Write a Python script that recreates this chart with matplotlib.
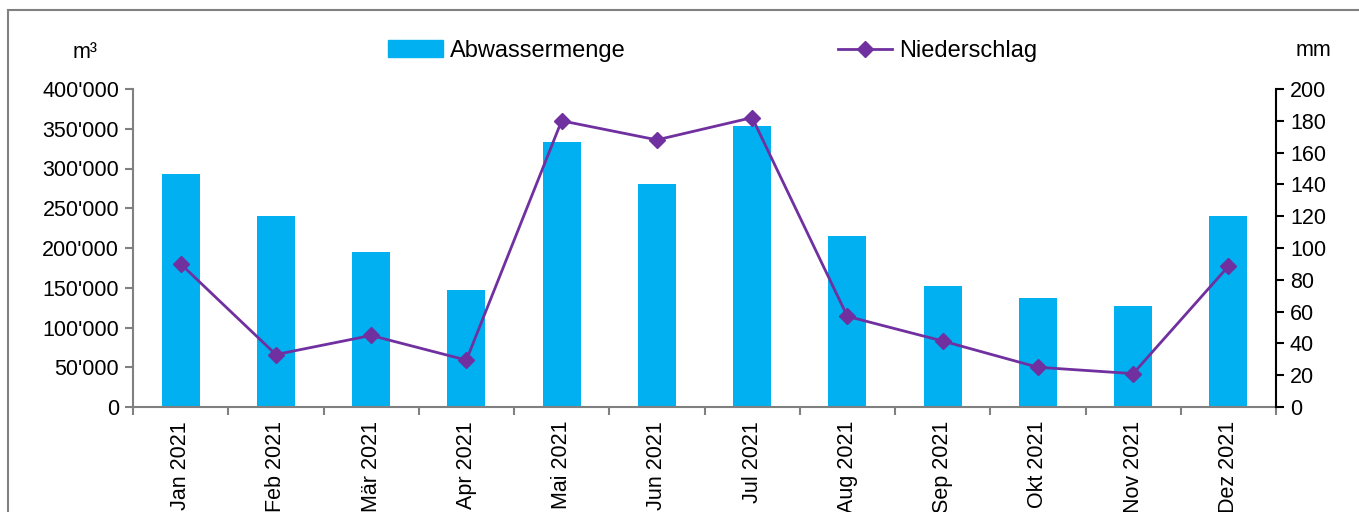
import matplotlib.pyplot as plt
import numpy as np
from matplotlib.lines import Line2D
from matplotlib.patches import Patch, Rectangle
from matplotlib.ticker import FuncFormatter

plt.rcParams["font.family"] = ["Liberation Sans", "DejaVu Sans"]

months = ["Jan 2021", "Feb 2021", "Mär 2021", "Apr 2021", "Mai 2021", "Jun 2021",
          "Jul 2021", "Aug 2021", "Sep 2021", "Okt 2021", "Nov 2021", "Dez 2021"]
abwasser = [293000, 240000, 195000, 147000, 333000, 280500,
            353500, 215000, 152000, 137000, 127000, 240000]
niederschlag = [90, 33, 45, 29.5, 180, 168, 182, 57, 41.5, 25, 21, 88.5]

BAR_COLOR = "#00B0F0"
LINE_COLOR = "#7030A0"
AXIS_GRAY = "#808080"
FS = 15.5


def swiss_thousands(v, _pos):
    return f"{int(v):,}".replace(",", "'")


fig = plt.figure(figsize=(13.59, 5.12), dpi=100)
fig.patches.append(Rectangle((8 / 1359, -0.1), 1.2, 1.1 - 10 / 512,
                             transform=fig.transFigure, fill=False,
                             edgecolor=AXIS_GRAY, linewidth=1.5))

ax = fig.add_axes([133 / 1359, 1 - 407 / 512, (1276 - 133) / 1359, (407 - 89) / 512])
x = np.arange(len(months))
ax.bar(x, abwasser, width=0.4, color=BAR_COLOR, zorder=2)
ax.set_xlim(-0.5, len(months) - 0.5)
ax.set_ylim(0, 400000)
ax.set_yticks(np.arange(0, 400001, 50000))
ax.yaxis.set_major_formatter(FuncFormatter(swiss_thousands))
ax.set_xticks(x)
ax.set_xticklabels(months, rotation=90)
ax.set_xticks(np.arange(-0.5, len(months)), minor=True)
ax.tick_params(axis="x", which="major", length=0, pad=10, labelsize=FS)
ax.tick_params(axis="x", which="minor", length=6, color=AXIS_GRAY, width=1.5, direction="out")
ax.tick_params(axis="y", length=6, color=AXIS_GRAY, width=1.5, labelsize=FS, pad=4)
for side in ("top", "right"):
    ax.spines[side].set_visible(False)
for side in ("left", "bottom"):
    ax.spines[side].set_color(AXIS_GRAY)
    ax.spines[side].set_linewidth(1.5)

ax2 = ax.twinx()
ax2.plot(x, niederschlag, color=LINE_COLOR, linewidth=2, marker="D",
         markersize=8, zorder=3)
ax2.set_ylim(0, 200)
ax2.set_yticks(np.arange(0, 201, 20))
ax2.tick_params(axis="y", length=6, color="black", width=1.5, labelsize=FS, pad=4)
for side in ("top", "left", "bottom"):
    ax2.spines[side].set_visible(False)
ax2.spines["right"].set_linewidth(1.5)

fig.text(85 / 1359, 1 - 52 / 512, "m³", fontsize=FS, ha="center", va="center")
fig.text(1313 / 1359, 1 - 50 / 512, "mm", fontsize=FS, ha="center", va="center")

handles = [Patch(color=BAR_COLOR, label="Abwassermenge"),
           Line2D([], [], color=LINE_COLOR, linewidth=2, marker="D", markersize=8,
                  label="Niederschlag")]
fig.legend(handles=handles, loc="center", bbox_to_anchor=(713 / 1359, 1 - 51 / 512),
           ncol=2, frameon=False, fontsize=17, columnspacing=9,
           handlelength=2.3, handletextpad=0.3)

fig.savefig("out.png", dpi=100)
